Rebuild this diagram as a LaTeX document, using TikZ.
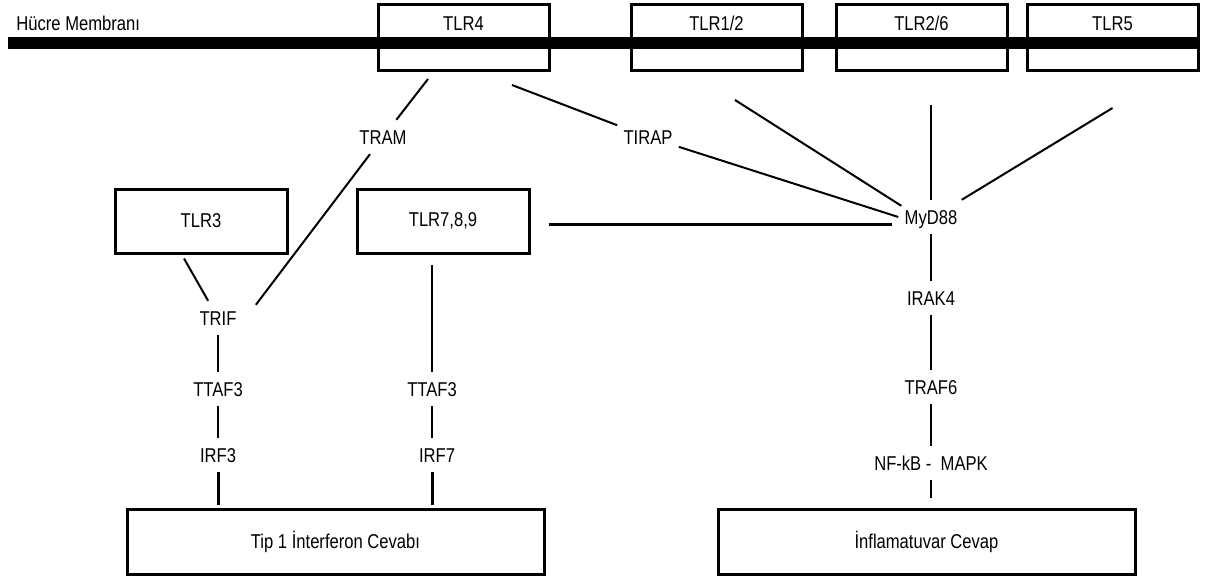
\documentclass[tikz,border=0pt]{standalone}
\usepackage{fontspec}
\setmainfont{Liberation Sans}[FakeStretch=0.83]
\usetikzlibrary{calc}

\tikzset{
  membox/.style={draw,line width=1.5pt,minimum width=85.5pt,minimum height=33pt,
    inner sep=0pt,text height=7.2pt,text depth=14.5pt},
  tlrbox/.style={draw,line width=1.5pt,minimum width=86pt,minimum height=32pt,inner sep=0pt},
  endbox/.style={draw,line width=1.5pt,minimum width=208.5pt,minimum height=32.5pt,inner sep=0pt},
  lbl/.style={inner xsep=3pt,inner ysep=4.8pt,text height=7.2pt,text depth=0pt},
  link/.style={line width=1pt},
  tlink/.style={line width=1.5pt},
}

\begin{document}
\begin{tikzpicture}[x=0.5pt,y=-0.5pt,font=\fontsize{10pt}{12pt}\selectfont]
  \useasboundingbox (0,0) rectangle (1210,579);
  % membrane
  \draw[line width=6pt] (8,43) -- (1200,43);
  \node[lbl,anchor=west,inner xsep=0pt] (hucre) at (16,23) {Hücre Membranı};
  \node[membox] (tlr4) at (463.5,37.5) {TLR4};
  \node[membox] (tlr12) at (716.5,37.5) {TLR1/2};
  \node[membox] (tlr26) at (921.5,37.5) {TLR2/6};
  \node[membox] (tlr5) at (1112.5,37.5) {TLR5};

  \node[tlrbox] (tlr3) at (201,221) {TLR3};
  \node[tlrbox] (tlr789) at (443,221) {TLR7,8,9};

  \node[lbl] (tram) at (383,137) {TRAM};
  \node[lbl] (tirap) at (648,137) {TIRAP};
  \node[lbl] (myd) at (931,217) {MyD88};

  % left branch
  \node[lbl] (trif) at (218,318) {TRIF};
  \node[lbl] (ttaf3a) at (218,389) {TTAF3};
  \node[lbl] (irf3) at (218,455) {IRF3};
  \node[lbl] (ttaf3b) at (432,389) {TTAF3};
  \node[lbl] (irf7) at (437,455) {IRF7};
  \node[endbox] (tip) at (335.5,541.5) {Tip 1 İnterferon Cevabı};

  % right branch
  \node[lbl] (irak) at (931,298) {IRAK4};
  \node[lbl] (traf) at (931,387) {TRAF6};
  \node[lbl] (nfkb) at (931,463) {NF-kB -\ \ MAPK};
  \node[endbox] (infl) at (926.5,542) {İnflamatuvar Cevap};

  % connectors
  \draw[link] ($(tlr4.south)+(-35.5,7)$) -- (tram);
  \draw[link] (tram) -- ($(trif.north east)+(13,4)$);
  \draw[link] ($(tlr4.south)+(48.5,13)$) -- (tirap);
  \draw[link] (tirap) -- (myd.west);
  \draw[link] ($(tlr12.south)+(18.5,28)$) -- ($(myd.north west)+(3,6)$);
  \draw[link] (myd.north) -- ++(0,-95);
  \draw[link] ($(tlr5.south)+(0,36)$) -- ($(myd.north east)+(-2,0)$);
  \draw[tlink] ($(tlr789.east)+(18,3)$) -- ($(myd.west)+(-6,7)$);

  \draw[link] ($(tlr3.south)+(-17,4)$) -- (trif);
  \draw[link] (trif) -- (ttaf3a);
  \draw[link] (ttaf3a) -- (irf3);
  \draw[tlink,shorten >=1.5pt] (irf3) -- (irf3 |- tip.north);
  \draw[link] ($(tlr789.south)+(-11,10)$) -- (ttaf3b);
  \draw[link] (ttaf3b) -- (ttaf3b |- irf7.north);
  \draw[tlink,shorten >=1.5pt] (irf7.south -| ttaf3b) -- (ttaf3b |- tip.north);

  \draw[link] (myd) -- (irak);
  \draw[link] (irak) -- (traf);
  \draw[link] (traf) -- (nfkb);
  \draw[link,shorten >=5pt] (nfkb) -- (nfkb |- infl.north);
\end{tikzpicture}
\end{document}
